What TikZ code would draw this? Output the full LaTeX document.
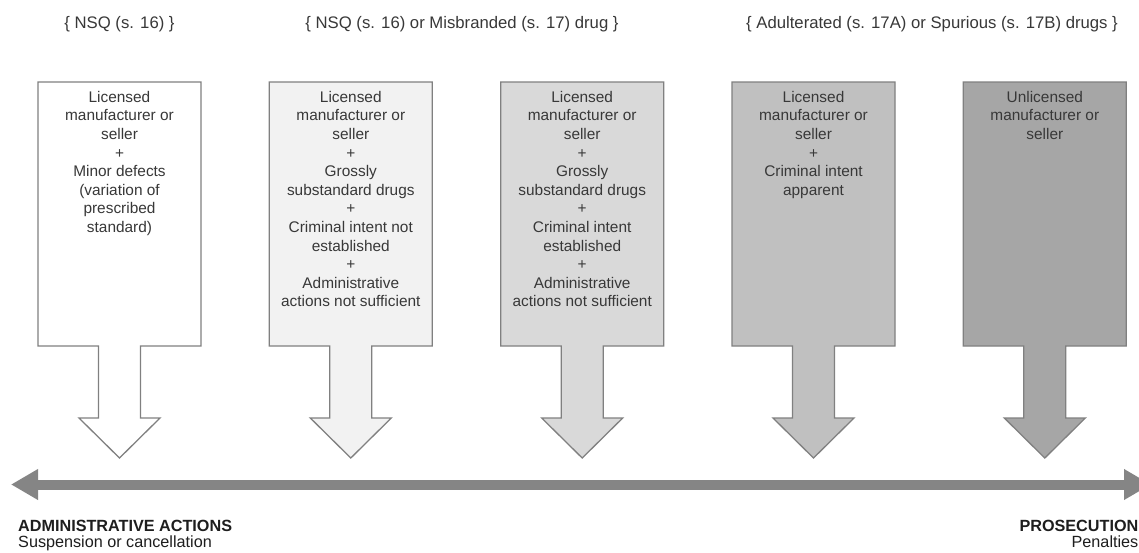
\documentclass[tikz,border=0pt]{standalone}
\usepackage{fontspec}
\setmainfont{Liberation Sans}
\usetikzlibrary{arrows.meta}
\definecolor{fillA}{HTML}{FFFFFF}
\definecolor{fillB}{HTML}{F2F2F2}
\definecolor{fillC}{HTML}{D9D9D9}
\definecolor{fillD}{HTML}{C0C0C0}
\definecolor{fillE}{HTML}{A6A6A6}
\definecolor{edgegray}{HTML}{808080}
\definecolor{bargray}{HTML}{858585}
\definecolor{txtgray}{HTML}{383838}
\definecolor{txtdark}{HTML}{1E1E1E}
\newcommand\arrowbox[2]{%
  \pgfmathsetmacro\cxa{#1+81.5}%
  \filldraw[boxshape, fill=#2] (#1,82) -- (#1+163,82) -- (#1+163,346)
    -- (\cxa+21,346) -- (\cxa+21,418) -- (\cxa+40.5,418) -- (\cxa,458)
    -- (\cxa-40.5,418) -- (\cxa-21,418) -- (\cxa-21,346) -- (#1,346) -- cycle;}
\begin{document}
\begin{tikzpicture}[x=1pt,y=-1pt,
  boxshape/.style={draw=edgegray, line width=1.3pt, line join=miter},
  boxtext/.style={anchor=north, align=center, inner sep=0pt, text=txtgray,
    font=\fontsize{15.4}{18.6}\selectfont},
  headtext/.style={anchor=center, inner sep=0pt, text=txtgray,
    font=\fontsize{16.7}{20}\selectfont},
  bottomtext/.style={inner sep=0pt, text=txtdark, font=\fontsize{16.2}{19}\selectfont}]
\useasboundingbox (0,0) rectangle (1139,552);
\clip (0,0) rectangle (1139,552);
\fill[white] (0,0) rectangle (1139,552);

% headers
\node[headtext] (h1) at (119.5,24) {\{ NSQ (s. 16) \}};
\node[headtext] (h2) at (462,24) {\{ NSQ (s. 16) or Misbranded (s. 17) drug \}};
\node[headtext] (h3) at (932,24) {\{ Adulterated (s. 17A) or Spurious (s. 17B) drugs \}};

% box-arrows
\arrowbox{38}{fillA}
\arrowbox{269.3}{fillB}
\arrowbox{500.7}{fillC}
\arrowbox{732}{fillD}
\arrowbox{963.3}{fillE}

\node[boxtext] (b1) at (119.5,91) {Licensed\\manufacturer or\\seller\\+\\Minor defects\\(variation of\\prescribed\\standard)};
\node[boxtext] (b2) at (350.8,91) {Licensed\\manufacturer or\\seller\\+\\Grossly\\substandard drugs\\+\\Criminal intent not\\established\\+\\Administrative\\actions not sufficient};
\node[boxtext] (b3) at (582.2,91) {Licensed\\manufacturer or\\seller\\+\\Grossly\\substandard drugs\\+\\Criminal intent\\established\\+\\Administrative\\actions not sufficient};
\node[boxtext] (b4) at (813.5,91) {Licensed\\manufacturer or\\seller\\+\\Criminal intent\\apparent};
\node[boxtext] (b5) at (1044.8,91) {Unlicensed\\manufacturer or\\seller};

% scale arrow
\coordinate (L) at (11,484.5);
\coordinate (R) at (1151,484.5);
\draw[bargray, line width=10pt,
  {Triangle[length=27pt,width=29pt]}-{Triangle[length=27pt,width=29pt]}] (L) -- (R);

% bottom labels
\node[bottomtext, anchor=base west] (admin) at (18,531) {\bfseries ADMINISTRATIVE ACTIONS};
\node[bottomtext, anchor=base west] (susp) at (18,547.5) {Suspension or cancellation};
\node[bottomtext, anchor=base east] (pros) at (1138.5,531) {\bfseries PROSECUTION};
\node[bottomtext, anchor=base east] (pen) at (1138.5,547.5) {Penalties};
\end{tikzpicture}
\end{document}
